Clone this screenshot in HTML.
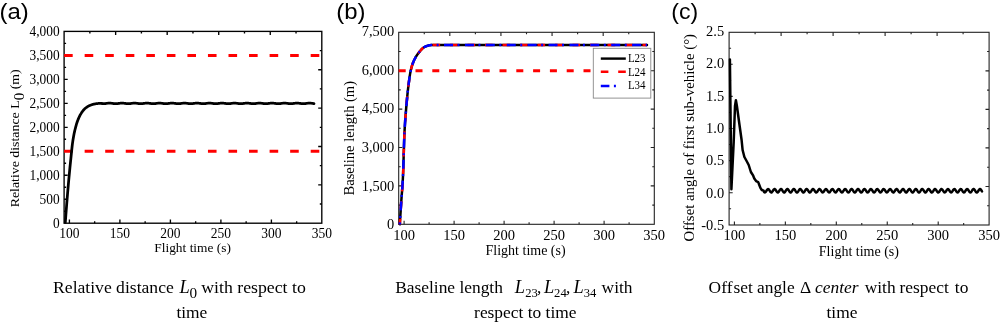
<!DOCTYPE html><html><head><meta charset="utf-8"><title>Figure</title><style>html,body{margin:0;padding:0;background:#fff;}svg{display:block;}</style></head><body>
<svg width="1000" height="322" viewBox="0 0 1000 322">
<rect width="1000" height="322" fill="#fff"/>
<path d="M69.4 223.2 L69.4 219.6 M94.65 223.2 L94.65 221.2 M119.9 223.2 L119.9 219.6 M145.15 223.2 L145.15 221.2 M170.4 223.2 L170.4 219.6 M195.65 223.2 L195.65 221.2 M220.9 223.2 L220.9 219.6 M246.15 223.2 L246.15 221.2 M271.4 223.2 L271.4 219.6 M296.65 223.2 L296.65 221.2 M64.1 211.21 L66.1 211.21 M64.1 199.22 L67.7 199.22 M64.1 187.24 L66.1 187.24 M64.1 175.25 L67.7 175.25 M64.1 163.26 L66.1 163.26 M64.1 151.27 L67.7 151.27 M64.1 139.29 L66.1 139.29 M64.1 127.3 L67.7 127.3 M64.1 115.31 L66.1 115.31 M64.1 103.33 L67.7 103.33 M64.1 91.34 L66.1 91.34 M64.1 79.35 L67.7 79.35 M64.1 67.36 L66.1 67.36 M64.1 55.38 L67.7 55.38 M64.1 43.39 L66.1 43.39 M89.87 31.4 L89.87 33.4 M321.8 50.58 L319.8 50.58 M115.64 31.4 L115.64 35 M321.8 69.76 L318.2 69.76 M141.41 31.4 L141.41 33.4 M321.8 88.94 L319.8 88.94 M167.18 31.4 L167.18 35 M321.8 108.12 L318.2 108.12 M192.95 31.4 L192.95 33.4 M321.8 127.3 L319.8 127.3 M218.72 31.4 L218.72 35 M321.8 146.48 L318.2 146.48 M244.49 31.4 L244.49 33.4 M321.8 165.66 L319.8 165.66 M270.26 31.4 L270.26 35 M321.8 184.84 L318.2 184.84 M296.03 31.4 L296.03 33.4 M321.8 204.02 L319.8 204.02" stroke="#000" stroke-width="1.35" fill="none"/>
<rect x="64.1" y="31.4" width="257.7" height="191.8" fill="none" stroke="#000" stroke-width="1.35"/>
<line x1="64.1" y1="55.38" x2="320" y2="55.38" stroke="#f00" stroke-width="3" stroke-dasharray="8.6 11.95"/>
<line x1="64.1" y1="151.27" x2="320" y2="151.27" stroke="#f00" stroke-width="3" stroke-dasharray="8.6 11.95"/>
<path d="M65.3 222.4 L65.61 218.3 L65.92 214.25 L66.23 210.26 L66.53 206.34 L66.84 202.48 L67.15 198.65 L67.46 194.87 L67.77 191.17 L68.08 187.55 L68.38 184.06 L68.69 180.65 L69 177.3 L69.31 174.02 L69.62 170.81 L69.93 167.67 L70.23 164.59 L70.54 161.59 L70.85 158.56 L71.16 155.51 L71.47 152.49 L71.78 149.56 L72.08 146.77 L72.39 144.18 L72.7 141.84 L73.01 139.8 L73.32 137.94 L73.63 136.21 L73.94 134.59 L74.24 133.07 L74.55 131.65 L74.86 130.3 L75.17 129.02 L75.48 127.81 L75.79 126.64 L76.09 125.52 L76.4 124.45 L76.71 123.44 L77.02 122.47 L77.33 121.56 L77.64 120.7 L77.94 119.89 L78.25 119.12 L78.56 118.39 L78.87 117.69 L79.18 117.02 L79.49 116.39 L79.79 115.78 L80.1 115.21 L80.41 114.65 L80.72 114.12 L81.03 113.6 L81.34 113.1 L81.65 112.62 L81.95 112.15 L82.26 111.7 L82.57 111.27 L82.88 110.86 L83.19 110.48 L83.5 110.12 L83.8 109.78 L84.11 109.45 L84.42 109.14 L84.73 108.83 L85.04 108.54 L85.35 108.27 L85.65 108 L85.96 107.75 L86.27 107.51 L86.58 107.29 L86.89 107.07 L87.2 106.87 L87.51 106.68 L87.81 106.5 L88.12 106.32 L88.43 106.15 L88.74 105.99 L89.05 105.84 L89.36 105.69 L89.66 105.55 L89.97 105.41 L90.28 105.29 L90.59 105.17 L90.9 105.05 L91.21 104.93 L91.51 104.82 L91.82 104.71 L92.13 104.61 L92.44 104.51 L92.75 104.42 L93.06 104.33 L93.36 104.25 L93.67 104.17 L93.98 104.1 L94.29 104.04 L94.6 103.98 L94.91 103.92 L95.22 103.86 L95.52 103.8 L95.83 103.75 L96.14 103.7 L96.45 103.65 L96.76 103.61 L97.07 103.57 L97.37 103.54 L97.68 103.52 L97.99 103.5 L98.3 103.49 L98.61 103.48 L98.92 103.46 L99.22 103.45 L99.53 103.44 L99.84 103.43 L100.15 103.42 L100.46 103.42 L100.77 103.41 L101.07 103.41 L101.38 103.4 L101.69 103.4 L102 103.4 L102 103.63 L102.5 103.66 L103 103.68 L103.5 103.68 L104 103.66 L104.5 103.62 L105 103.58 L105.5 103.52 L106 103.45 L106.5 103.38 L107 103.31 L107.5 103.25 L108 103.19 L108.5 103.15 L109 103.13 L109.5 103.12 L110 103.13 L110.5 103.16 L111 103.2 L111.5 103.25 L112 103.32 L112.5 103.39 L113 103.46 L113.5 103.52 L114 103.58 L114.5 103.63 L115 103.66 L115.5 103.68 L116 103.68 L116.5 103.66 L117 103.62 L117.5 103.58 L118 103.52 L118.5 103.45 L119 103.38 L119.5 103.31 L120 103.25 L120.5 103.19 L121 103.15 L121.5 103.13 L122 103.12 L122.5 103.13 L123 103.16 L123.5 103.2 L124 103.25 L124.5 103.32 L125 103.39 L125.5 103.46 L126 103.52 L126.5 103.58 L127 103.63 L127.5 103.66 L128 103.68 L128.5 103.68 L129 103.66 L129.5 103.62 L130 103.58 L130.5 103.52 L131 103.45 L131.5 103.38 L132 103.31 L132.5 103.25 L133 103.19 L133.5 103.15 L134 103.13 L134.5 103.12 L135 103.13 L135.5 103.16 L136 103.2 L136.5 103.25 L137 103.32 L137.5 103.39 L138 103.46 L138.5 103.52 L139 103.58 L139.5 103.63 L140 103.66 L140.5 103.68 L141 103.68 L141.5 103.66 L142 103.62 L142.5 103.58 L143 103.52 L143.5 103.45 L144 103.38 L144.5 103.31 L145 103.25 L145.5 103.19 L146 103.15 L146.5 103.13 L147 103.12 L147.5 103.13 L148 103.16 L148.5 103.2 L149 103.25 L149.5 103.32 L150 103.39 L150.5 103.46 L151 103.52 L151.5 103.58 L152 103.63 L152.5 103.66 L153 103.68 L153.5 103.68 L154 103.66 L154.5 103.62 L155 103.58 L155.5 103.52 L156 103.45 L156.5 103.38 L157 103.31 L157.5 103.25 L158 103.19 L158.5 103.15 L159 103.13 L159.5 103.12 L160 103.13 L160.5 103.16 L161 103.2 L161.5 103.25 L162 103.32 L162.5 103.39 L163 103.46 L163.5 103.52 L164 103.58 L164.5 103.63 L165 103.66 L165.5 103.68 L166 103.68 L166.5 103.66 L167 103.62 L167.5 103.58 L168 103.52 L168.5 103.45 L169 103.38 L169.5 103.31 L170 103.25 L170.5 103.19 L171 103.15 L171.5 103.13 L172 103.12 L172.5 103.13 L173 103.16 L173.5 103.2 L174 103.25 L174.5 103.32 L175 103.39 L175.5 103.46 L176 103.52 L176.5 103.58 L177 103.63 L177.5 103.66 L178 103.68 L178.5 103.68 L179 103.66 L179.5 103.62 L180 103.58 L180.5 103.52 L181 103.45 L181.5 103.38 L182 103.31 L182.5 103.25 L183 103.19 L183.5 103.15 L184 103.13 L184.5 103.12 L185 103.13 L185.5 103.16 L186 103.2 L186.5 103.25 L187 103.32 L187.5 103.39 L188 103.46 L188.5 103.52 L189 103.58 L189.5 103.63 L190 103.66 L190.5 103.68 L191 103.68 L191.5 103.66 L192 103.62 L192.5 103.58 L193 103.52 L193.5 103.45 L194 103.38 L194.5 103.31 L195 103.25 L195.5 103.19 L196 103.15 L196.5 103.13 L197 103.12 L197.5 103.13 L198 103.16 L198.5 103.2 L199 103.25 L199.5 103.32 L200 103.39 L200.5 103.46 L201 103.52 L201.5 103.58 L202 103.63 L202.5 103.66 L203 103.68 L203.5 103.68 L204 103.66 L204.5 103.62 L205 103.58 L205.5 103.52 L206 103.45 L206.5 103.38 L207 103.31 L207.5 103.25 L208 103.19 L208.5 103.15 L209 103.13 L209.5 103.12 L210 103.13 L210.5 103.16 L211 103.2 L211.5 103.25 L212 103.32 L212.5 103.39 L213 103.46 L213.5 103.52 L214 103.58 L214.5 103.63 L215 103.66 L215.5 103.68 L216 103.68 L216.5 103.66 L217 103.62 L217.5 103.58 L218 103.52 L218.5 103.45 L219 103.38 L219.5 103.31 L220 103.25 L220.5 103.19 L221 103.15 L221.5 103.13 L222 103.12 L222.5 103.13 L223 103.16 L223.5 103.2 L224 103.25 L224.5 103.32 L225 103.39 L225.5 103.46 L226 103.52 L226.5 103.58 L227 103.63 L227.5 103.66 L228 103.68 L228.5 103.68 L229 103.66 L229.5 103.62 L230 103.58 L230.5 103.52 L231 103.45 L231.5 103.38 L232 103.31 L232.5 103.25 L233 103.19 L233.5 103.15 L234 103.13 L234.5 103.12 L235 103.13 L235.5 103.16 L236 103.2 L236.5 103.25 L237 103.32 L237.5 103.39 L238 103.46 L238.5 103.52 L239 103.58 L239.5 103.63 L240 103.66 L240.5 103.68 L241 103.68 L241.5 103.66 L242 103.62 L242.5 103.58 L243 103.52 L243.5 103.45 L244 103.38 L244.5 103.31 L245 103.25 L245.5 103.19 L246 103.15 L246.5 103.13 L247 103.12 L247.5 103.13 L248 103.16 L248.5 103.2 L249 103.25 L249.5 103.32 L250 103.39 L250.5 103.46 L251 103.52 L251.5 103.58 L252 103.63 L252.5 103.66 L253 103.68 L253.5 103.68 L254 103.66 L254.5 103.62 L255 103.58 L255.5 103.52 L256 103.45 L256.5 103.38 L257 103.31 L257.5 103.25 L258 103.19 L258.5 103.15 L259 103.13 L259.5 103.12 L260 103.13 L260.5 103.16 L261 103.2 L261.5 103.25 L262 103.32 L262.5 103.39 L263 103.46 L263.5 103.52 L264 103.58 L264.5 103.63 L265 103.66 L265.5 103.68 L266 103.68 L266.5 103.66 L267 103.62 L267.5 103.58 L268 103.52 L268.5 103.45 L269 103.38 L269.5 103.31 L270 103.25 L270.5 103.19 L271 103.15 L271.5 103.13 L272 103.12 L272.5 103.13 L273 103.16 L273.5 103.2 L274 103.25 L274.5 103.32 L275 103.39 L275.5 103.46 L276 103.52 L276.5 103.58 L277 103.63 L277.5 103.66 L278 103.68 L278.5 103.68 L279 103.66 L279.5 103.62 L280 103.58 L280.5 103.52 L281 103.45 L281.5 103.38 L282 103.31 L282.5 103.25 L283 103.19 L283.5 103.15 L284 103.13 L284.5 103.12 L285 103.13 L285.5 103.16 L286 103.2 L286.5 103.25 L287 103.32 L287.5 103.39 L288 103.46 L288.5 103.52 L289 103.58 L289.5 103.63 L290 103.66 L290.5 103.68 L291 103.68 L291.5 103.66 L292 103.62 L292.5 103.58 L293 103.52 L293.5 103.45 L294 103.38 L294.5 103.31 L295 103.25 L295.5 103.19 L296 103.15 L296.5 103.13 L297 103.12 L297.5 103.13 L298 103.16 L298.5 103.2 L299 103.25 L299.5 103.32 L300 103.39 L300.5 103.46 L301 103.52 L301.5 103.58 L302 103.63 L302.5 103.66 L303 103.68 L303.5 103.68 L304 103.66 L304.5 103.62 L305 103.58 L305.5 103.52 L306 103.45 L306.5 103.38 L307 103.31 L307.5 103.25 L308 103.19 L308.5 103.15 L309 103.13 L309.5 103.12 L310 103.13 L310.5 103.16 L311 103.2 L311.5 103.25 L312 103.32 L312.5 103.39 L313 103.46 L313.5 103.52 L314 103.58" fill="none" stroke="#000" stroke-width="2.75" stroke-linejoin="round" stroke-linecap="round"/>
<text transform="translate(69.4 237.6) scale(1.04 1.2)" font-family="'Liberation Serif', 'Times New Roman', serif" font-size="13" text-anchor="middle" >100</text>
<text transform="translate(119.9 237.6) scale(1.04 1.2)" font-family="'Liberation Serif', 'Times New Roman', serif" font-size="13" text-anchor="middle" >150</text>
<text transform="translate(170.4 237.6) scale(1.04 1.2)" font-family="'Liberation Serif', 'Times New Roman', serif" font-size="13" text-anchor="middle" >200</text>
<text transform="translate(220.9 237.6) scale(1.04 1.2)" font-family="'Liberation Serif', 'Times New Roman', serif" font-size="13" text-anchor="middle" >250</text>
<text transform="translate(271.4 237.6) scale(1.04 1.2)" font-family="'Liberation Serif', 'Times New Roman', serif" font-size="13" text-anchor="middle" >300</text>
<text transform="translate(321.9 237.6) scale(1.04 1.2)" font-family="'Liberation Serif', 'Times New Roman', serif" font-size="13" text-anchor="middle" >350</text>
<text transform="translate(59.6 227.6) scale(1.03 1.2)" font-family="'Liberation Serif', 'Times New Roman', serif" font-size="13" text-anchor="end" >0</text>
<text transform="translate(59.6 203.6) scale(1.03 1.2)" font-family="'Liberation Serif', 'Times New Roman', serif" font-size="13" text-anchor="end" >500</text>
<text transform="translate(59.6 179.6) scale(1.03 1.2)" font-family="'Liberation Serif', 'Times New Roman', serif" font-size="13" text-anchor="end" >1,000</text>
<text transform="translate(59.6 155.6) scale(1.03 1.2)" font-family="'Liberation Serif', 'Times New Roman', serif" font-size="13" text-anchor="end" >1,500</text>
<text transform="translate(59.6 131.6) scale(1.03 1.2)" font-family="'Liberation Serif', 'Times New Roman', serif" font-size="13" text-anchor="end" >2,000</text>
<text transform="translate(59.6 107.6) scale(1.03 1.2)" font-family="'Liberation Serif', 'Times New Roman', serif" font-size="13" text-anchor="end" >2,500</text>
<text transform="translate(59.6 83.6) scale(1.03 1.2)" font-family="'Liberation Serif', 'Times New Roman', serif" font-size="13" text-anchor="end" >3,000</text>
<text transform="translate(59.6 59.6) scale(1.03 1.2)" font-family="'Liberation Serif', 'Times New Roman', serif" font-size="13" text-anchor="end" >3,500</text>
<text transform="translate(59.6 35.6) scale(1.03 1.2)" font-family="'Liberation Serif', 'Times New Roman', serif" font-size="13" text-anchor="end" >4,000</text>
<text x="192.6" y="251.6" font-family="'Liberation Serif', 'Times New Roman', serif" font-size="13.4" text-anchor="middle" >Flight time (s)</text>
<text transform="translate(19.2 207.3) rotate(-90) scale(1.035 1)" font-family="'Liberation Serif', 'Times New Roman', serif" font-size="13.4">Relative distance L<tspan font-size="14.5" dy="5.2">0</tspan><tspan dy="-5.2"> (m)</tspan></text>
<text transform="translate(-0.6 18.8) scale(1.09 1)" font-family="'Liberation Sans', Arial, sans-serif" font-size="22">(a)</text>
<path d="M404.1 224.3 L404.1 220.7 M429.1 224.3 L429.1 222.3 M454.1 224.3 L454.1 220.7 M479.1 224.3 L479.1 222.3 M504.1 224.3 L504.1 220.7 M529.1 224.3 L529.1 222.3 M554.1 224.3 L554.1 220.7 M579.1 224.3 L579.1 222.3 M604.1 224.3 L604.1 220.7 M629.1 224.3 L629.1 222.3 M398.7 205.1 L400.7 205.1 M398.7 185.9 L402.3 185.9 M398.7 166.7 L400.7 166.7 M398.7 147.5 L402.3 147.5 M398.7 128.3 L400.7 128.3 M398.7 109.1 L402.3 109.1 M398.7 89.9 L400.7 89.9 M398.7 70.7 L402.3 70.7 M398.7 51.5 L400.7 51.5 M424.26 32.3 L424.26 34.3 M654.3 51.5 L652.3 51.5 M449.82 32.3 L449.82 35.9 M654.3 70.7 L650.7 70.7 M475.38 32.3 L475.38 34.3 M654.3 89.9 L652.3 89.9 M500.94 32.3 L500.94 35.9 M654.3 109.1 L650.7 109.1 M526.5 32.3 L526.5 34.3 M654.3 128.3 L652.3 128.3 M552.06 32.3 L552.06 35.9 M654.3 147.5 L650.7 147.5 M577.62 32.3 L577.62 34.3 M654.3 166.7 L652.3 166.7 M603.18 32.3 L603.18 35.9 M654.3 185.9 L650.7 185.9 M628.74 32.3 L628.74 34.3 M654.3 205.1 L652.3 205.1" stroke="#222" stroke-width="1.1" fill="none"/>
<rect x="398.7" y="32.3" width="255.6" height="192" fill="none" stroke="#222" stroke-width="1.1"/>
<line x1="398.7" y1="70.7" x2="593" y2="70.7" stroke="#f00" stroke-width="3" stroke-dasharray="7 9.8"/>
<path d="M399.8 224.3 L400.05 220.25 L400.31 216.25 L400.56 212.3 L400.81 208.4 L401.06 204.55 L401.32 200.75 L401.57 197.2 L401.82 193.9 L402.08 190.66 L402.33 187.28 L402.58 183.53 L402.83 179.24 L403.09 173.84 L403.34 166.72 L403.59 158.57 L403.85 150.11 L404.1 142.08 L404.35 135.21 L404.6 130.07 L404.86 125.74 L405.11 121.85 L405.36 118.3 L405.62 115.03 L405.87 111.93 L406.12 108.93 L406.37 105.97 L406.63 103.11 L406.88 100.34 L407.13 97.67 L407.38 95.11 L407.64 92.66 L407.89 90.33 L408.14 88.12 L408.4 86.03 L408.65 84.02 L408.9 82.05 L409.15 80.14 L409.41 78.31 L409.66 76.56 L409.91 74.92 L410.17 73.41 L410.42 72.04 L410.67 70.83 L410.92 69.74 L411.18 68.72 L411.43 67.75 L411.68 66.84 L411.94 65.98 L412.19 65.17 L412.44 64.4 L412.69 63.68 L412.95 63 L413.2 62.35 L413.45 61.74 L413.71 61.16 L413.96 60.6 L414.21 60.06 L414.46 59.53 L414.72 59.02 L414.97 58.53 L415.22 58.05 L415.48 57.59 L415.73 57.14 L415.98 56.71 L416.23 56.29 L416.49 55.88 L416.74 55.48 L416.99 55.1 L417.25 54.73 L417.5 54.37 L417.75 54.02 L418 53.67 L418.26 53.34 L418.51 53.01 L418.76 52.7 L419.02 52.38 L419.27 52.06 L419.52 51.75 L419.77 51.43 L420.03 51.12 L420.28 50.82 L420.53 50.52 L420.78 50.22 L421.04 49.93 L421.29 49.65 L421.54 49.37 L421.8 49.11 L422.05 48.85 L422.3 48.6 L422.55 48.36 L422.81 48.13 L423.06 47.92 L423.31 47.71 L423.57 47.52 L423.82 47.34 L424.07 47.18 L424.32 47.03 L424.58 46.9 L424.83 46.79 L425.08 46.68 L425.34 46.57 L425.59 46.47 L425.84 46.37 L426.09 46.27 L426.35 46.17 L426.6 46.08 L426.85 45.99 L427.11 45.9 L427.36 45.82 L427.61 45.74 L427.86 45.66 L428.12 45.59 L428.37 45.52 L428.62 45.46 L428.88 45.4 L429.13 45.34 L429.38 45.29 L429.63 45.25 L429.89 45.21 L430.14 45.17 L430.39 45.14 L430.65 45.12 L430.9 45.1 L431.15 45.09 L431.4 45.08 L431.66 45.07 L431.91 45.06 L432.16 45.05 L432.42 45.04 L432.67 45.03 L432.92 45.03 L433.17 45.02 L433.43 45.01 L433.68 45 L433.93 44.99 L434.18 44.98 L434.44 44.98 L434.69 44.97 L434.94 44.96 L435.2 44.96 L435.45 44.95 L435.7 44.95 L435.95 44.94 L436.21 44.94 L436.46 44.93 L436.71 44.93 L436.97 44.92 L437.22 44.92 L437.47 44.92 L437.72 44.91 L437.98 44.91 L438.23 44.91 L438.48 44.91 L438.74 44.9 L438.99 44.9 L439.24 44.9 L439.49 44.9 L439.75 44.9 L440 44.9 L441 44.9 L442 44.9 L443 44.9 L444 44.9 L445 44.9 L446 44.9 L447 44.9 L448 44.9 L449 44.9 L450 44.9 L451 44.9 L452 44.9 L453 44.9 L454 44.9 L455 44.9 L456 44.9 L457 44.9 L458 44.9 L459 44.9 L460 44.9 L461 44.9 L462 44.9 L463 44.9 L464 44.9 L465 44.9 L466 44.9 L467 44.9 L468 44.9 L469 44.9 L470 44.9 L471 44.9 L472 44.9 L473 44.9 L474 44.9 L475 44.9 L476 44.9 L477 44.9 L478 44.9 L479 44.9 L480 44.9 L481 44.9 L482 44.9 L483 44.9 L484 44.9 L485 44.9 L486 44.9 L487 44.9 L488 44.9 L489 44.9 L490 44.9 L491 44.9 L492 44.9 L493 44.9 L494 44.9 L495 44.9 L496 44.9 L497 44.9 L498 44.9 L499 44.9 L500 44.9 L501 44.9 L502 44.9 L503 44.9 L504 44.9 L505 44.9 L506 44.9 L507 44.9 L508 44.9 L509 44.9 L510 44.9 L511 44.9 L512 44.9 L513 44.9 L514 44.9 L515 44.9 L516 44.9 L517 44.9 L518 44.9 L519 44.9 L520 44.9 L521 44.9 L522 44.9 L523 44.9 L524 44.9 L525 44.9 L526 44.9 L527 44.9 L528 44.9 L529 44.9 L530 44.9 L531 44.9 L532 44.9 L533 44.9 L534 44.9 L535 44.9 L536 44.9 L537 44.9 L538 44.9 L539 44.9 L540 44.9 L541 44.9 L542 44.9 L543 44.9 L544 44.9 L545 44.9 L546 44.9 L547 44.9 L548 44.9 L549 44.9 L550 44.9 L551 44.9 L552 44.9 L553 44.9 L554 44.9 L555 44.9 L556 44.9 L557 44.9 L558 44.9 L559 44.9 L560 44.9 L561 44.9 L562 44.9 L563 44.9 L564 44.9 L565 44.9 L566 44.9 L567 44.9 L568 44.9 L569 44.9 L570 44.9 L571 44.9 L572 44.9 L573 44.9 L574 44.9 L575 44.9 L576 44.9 L577 44.9 L578 44.9 L579 44.9 L580 44.9 L581 44.9 L582 44.9 L583 44.9 L584 44.9 L585 44.9 L586 44.9 L587 44.9 L588 44.9 L589 44.9 L590 44.9 L591 44.9 L592 44.9 L593 44.9 L594 44.9 L595 44.9 L596 44.9 L597 44.9 L598 44.9 L599 44.9 L600 44.9 L601 44.9 L602 44.9 L603 44.9 L604 44.9 L605 44.9 L606 44.9 L607 44.9 L608 44.9 L609 44.9 L610 44.9 L611 44.9 L612 44.9 L613 44.9 L614 44.9 L615 44.9 L616 44.9 L617 44.9 L618 44.9 L619 44.9 L620 44.9 L621 44.9 L622 44.9 L623 44.9 L624 44.9 L625 44.9 L626 44.9 L627 44.9 L628 44.9 L629 44.9 L630 44.9 L631 44.9 L632 44.9 L633 44.9 L634 44.9 L635 44.9 L636 44.9 L637 44.9 L638 44.9 L639 44.9 L640 44.9 L641 44.9 L642 44.9 L643 44.9 L644 44.9 L645 44.9 L646 44.9 L647 44.9" fill="none" stroke="#000" stroke-width="2.5" stroke-linejoin="round" stroke-linecap="round"/>
<path d="M399.8 224.3 L400.05 220.25 L400.31 216.25 L400.56 212.3 L400.81 208.4 L401.06 204.55 L401.32 200.75 L401.57 197.2 L401.82 193.9 L402.08 190.66 L402.33 187.28 L402.58 183.53 L402.83 179.24 L403.09 173.84 L403.34 166.72 L403.59 158.57 L403.85 150.11 L404.1 142.08 L404.35 135.21 L404.6 130.07 L404.86 125.74 L405.11 121.85 L405.36 118.3 L405.62 115.03 L405.87 111.93 L406.12 108.93 L406.37 105.97 L406.63 103.11 L406.88 100.34 L407.13 97.67 L407.38 95.11 L407.64 92.66 L407.89 90.33 L408.14 88.12 L408.4 86.03 L408.65 84.02 L408.9 82.05 L409.15 80.14 L409.41 78.31 L409.66 76.56 L409.91 74.92 L410.17 73.41 L410.42 72.04 L410.67 70.83 L410.92 69.74 L411.18 68.72 L411.43 67.75 L411.68 66.84 L411.94 65.98 L412.19 65.17 L412.44 64.4 L412.69 63.68 L412.95 63 L413.2 62.35 L413.45 61.74 L413.71 61.16 L413.96 60.6 L414.21 60.06 L414.46 59.53 L414.72 59.02 L414.97 58.53 L415.22 58.05 L415.48 57.59 L415.73 57.14 L415.98 56.71 L416.23 56.29 L416.49 55.88 L416.74 55.48 L416.99 55.1 L417.25 54.73 L417.5 54.37 L417.75 54.02 L418 53.67 L418.26 53.34 L418.51 53.01 L418.76 52.7 L419.02 52.38 L419.27 52.06 L419.52 51.75 L419.77 51.43 L420.03 51.12 L420.28 50.82 L420.53 50.52 L420.78 50.22 L421.04 49.93 L421.29 49.65 L421.54 49.37 L421.8 49.11 L422.05 48.85 L422.3 48.6 L422.55 48.36 L422.81 48.13 L423.06 47.92 L423.31 47.71 L423.57 47.52 L423.82 47.34 L424.07 47.18 L424.32 47.03 L424.58 46.9 L424.83 46.79 L425.08 46.68 L425.34 46.57 L425.59 46.47 L425.84 46.37 L426.09 46.27 L426.35 46.17 L426.6 46.08 L426.85 45.99 L427.11 45.9 L427.36 45.82 L427.61 45.74 L427.86 45.66 L428.12 45.59 L428.37 45.52 L428.62 45.46 L428.88 45.4 L429.13 45.34 L429.38 45.29 L429.63 45.25 L429.89 45.21 L430.14 45.17 L430.39 45.14 L430.65 45.12 L430.9 45.1 L431.15 45.09 L431.4 45.08 L431.66 45.07 L431.91 45.06 L432.16 45.05 L432.42 45.04 L432.67 45.03 L432.92 45.03 L433.17 45.02 L433.43 45.01 L433.68 45 L433.93 44.99 L434.18 44.98 L434.44 44.98 L434.69 44.97 L434.94 44.96 L435.2 44.96 L435.45 44.95 L435.7 44.95 L435.95 44.94 L436.21 44.94 L436.46 44.93 L436.71 44.93 L436.97 44.92 L437.22 44.92 L437.47 44.92 L437.72 44.91 L437.98 44.91 L438.23 44.91 L438.48 44.91 L438.74 44.9 L438.99 44.9 L439.24 44.9 L439.49 44.9 L439.75 44.9 L440 44.9 L441 44.9 L442 44.9 L443 44.9 L444 44.9 L445 44.9 L446 44.9 L447 44.9 L448 44.9 L449 44.9 L450 44.9 L451 44.9 L452 44.9 L453 44.9 L454 44.9 L455 44.9 L456 44.9 L457 44.9 L458 44.9 L459 44.9 L460 44.9 L461 44.9 L462 44.9 L463 44.9 L464 44.9 L465 44.9 L466 44.9 L467 44.9 L468 44.9 L469 44.9 L470 44.9 L471 44.9 L472 44.9 L473 44.9 L474 44.9 L475 44.9 L476 44.9 L477 44.9 L478 44.9 L479 44.9 L480 44.9 L481 44.9 L482 44.9 L483 44.9 L484 44.9 L485 44.9 L486 44.9 L487 44.9 L488 44.9 L489 44.9 L490 44.9 L491 44.9 L492 44.9 L493 44.9 L494 44.9 L495 44.9 L496 44.9 L497 44.9 L498 44.9 L499 44.9 L500 44.9 L501 44.9 L502 44.9 L503 44.9 L504 44.9 L505 44.9 L506 44.9 L507 44.9 L508 44.9 L509 44.9 L510 44.9 L511 44.9 L512 44.9 L513 44.9 L514 44.9 L515 44.9 L516 44.9 L517 44.9 L518 44.9 L519 44.9 L520 44.9 L521 44.9 L522 44.9 L523 44.9 L524 44.9 L525 44.9 L526 44.9 L527 44.9 L528 44.9 L529 44.9 L530 44.9 L531 44.9 L532 44.9 L533 44.9 L534 44.9 L535 44.9 L536 44.9 L537 44.9 L538 44.9 L539 44.9 L540 44.9 L541 44.9 L542 44.9 L543 44.9 L544 44.9 L545 44.9 L546 44.9 L547 44.9 L548 44.9 L549 44.9 L550 44.9 L551 44.9 L552 44.9 L553 44.9 L554 44.9 L555 44.9 L556 44.9 L557 44.9 L558 44.9 L559 44.9 L560 44.9 L561 44.9 L562 44.9 L563 44.9 L564 44.9 L565 44.9 L566 44.9 L567 44.9 L568 44.9 L569 44.9 L570 44.9 L571 44.9 L572 44.9 L573 44.9 L574 44.9 L575 44.9 L576 44.9 L577 44.9 L578 44.9 L579 44.9 L580 44.9 L581 44.9 L582 44.9 L583 44.9 L584 44.9 L585 44.9 L586 44.9 L587 44.9 L588 44.9 L589 44.9 L590 44.9 L591 44.9 L592 44.9 L593 44.9 L594 44.9 L595 44.9 L596 44.9 L597 44.9 L598 44.9 L599 44.9 L600 44.9 L601 44.9 L602 44.9 L603 44.9 L604 44.9 L605 44.9 L606 44.9 L607 44.9 L608 44.9 L609 44.9 L610 44.9 L611 44.9 L612 44.9 L613 44.9 L614 44.9 L615 44.9 L616 44.9 L617 44.9 L618 44.9 L619 44.9 L620 44.9 L621 44.9 L622 44.9 L623 44.9 L624 44.9 L625 44.9 L626 44.9 L627 44.9 L628 44.9 L629 44.9 L630 44.9 L631 44.9 L632 44.9 L633 44.9 L634 44.9 L635 44.9 L636 44.9 L637 44.9 L638 44.9 L639 44.9 L640 44.9 L641 44.9 L642 44.9 L643 44.9 L644 44.9 L645 44.9 L646 44.9 L647 44.9" fill="none" stroke="#f00" stroke-width="2.5" stroke-dasharray="7.6 9.9" stroke-dashoffset="2" stroke-linejoin="round"/>
<path d="M399.8 224.3 L400.05 220.25 L400.31 216.25 L400.56 212.3 L400.81 208.4 L401.06 204.55 L401.32 200.75 L401.57 197.2 L401.82 193.9 L402.08 190.66 L402.33 187.28 L402.58 183.53 L402.83 179.24 L403.09 173.84 L403.34 166.72 L403.59 158.57 L403.85 150.11 L404.1 142.08 L404.35 135.21 L404.6 130.07 L404.86 125.74 L405.11 121.85 L405.36 118.3 L405.62 115.03 L405.87 111.93 L406.12 108.93 L406.37 105.97 L406.63 103.11 L406.88 100.34 L407.13 97.67 L407.38 95.11 L407.64 92.66 L407.89 90.33 L408.14 88.12 L408.4 86.03 L408.65 84.02 L408.9 82.05 L409.15 80.14 L409.41 78.31 L409.66 76.56 L409.91 74.92 L410.17 73.41 L410.42 72.04 L410.67 70.83 L410.92 69.74 L411.18 68.72 L411.43 67.75 L411.68 66.84 L411.94 65.98 L412.19 65.17 L412.44 64.4 L412.69 63.68 L412.95 63 L413.2 62.35 L413.45 61.74 L413.71 61.16 L413.96 60.6 L414.21 60.06 L414.46 59.53 L414.72 59.02 L414.97 58.53 L415.22 58.05 L415.48 57.59 L415.73 57.14 L415.98 56.71 L416.23 56.29 L416.49 55.88 L416.74 55.48 L416.99 55.1 L417.25 54.73 L417.5 54.37 L417.75 54.02 L418 53.67 L418.26 53.34 L418.51 53.01 L418.76 52.7 L419.02 52.38 L419.27 52.06 L419.52 51.75 L419.77 51.43 L420.03 51.12 L420.28 50.82 L420.53 50.52 L420.78 50.22 L421.04 49.93 L421.29 49.65 L421.54 49.37 L421.8 49.11 L422.05 48.85 L422.3 48.6 L422.55 48.36 L422.81 48.13 L423.06 47.92 L423.31 47.71 L423.57 47.52 L423.82 47.34 L424.07 47.18 L424.32 47.03 L424.58 46.9 L424.83 46.79 L425.08 46.68 L425.34 46.57 L425.59 46.47 L425.84 46.37 L426.09 46.27 L426.35 46.17 L426.6 46.08 L426.85 45.99 L427.11 45.9 L427.36 45.82 L427.61 45.74 L427.86 45.66 L428.12 45.59 L428.37 45.52 L428.62 45.46 L428.88 45.4 L429.13 45.34 L429.38 45.29 L429.63 45.25 L429.89 45.21 L430.14 45.17 L430.39 45.14 L430.65 45.12 L430.9 45.1 L431.15 45.09 L431.4 45.08 L431.66 45.07 L431.91 45.06 L432.16 45.05 L432.42 45.04 L432.67 45.03 L432.92 45.03 L433.17 45.02 L433.43 45.01 L433.68 45 L433.93 44.99 L434.18 44.98 L434.44 44.98 L434.69 44.97 L434.94 44.96 L435.2 44.96 L435.45 44.95 L435.7 44.95 L435.95 44.94 L436.21 44.94 L436.46 44.93 L436.71 44.93 L436.97 44.92 L437.22 44.92 L437.47 44.92 L437.72 44.91 L437.98 44.91 L438.23 44.91 L438.48 44.91 L438.74 44.9 L438.99 44.9 L439.24 44.9 L439.49 44.9 L439.75 44.9 L440 44.9 L441 44.9 L442 44.9 L443 44.9 L444 44.9 L445 44.9 L446 44.9 L447 44.9 L448 44.9 L449 44.9 L450 44.9 L451 44.9 L452 44.9 L453 44.9 L454 44.9 L455 44.9 L456 44.9 L457 44.9 L458 44.9 L459 44.9 L460 44.9 L461 44.9 L462 44.9 L463 44.9 L464 44.9 L465 44.9 L466 44.9 L467 44.9 L468 44.9 L469 44.9 L470 44.9 L471 44.9 L472 44.9 L473 44.9 L474 44.9 L475 44.9 L476 44.9 L477 44.9 L478 44.9 L479 44.9 L480 44.9 L481 44.9 L482 44.9 L483 44.9 L484 44.9 L485 44.9 L486 44.9 L487 44.9 L488 44.9 L489 44.9 L490 44.9 L491 44.9 L492 44.9 L493 44.9 L494 44.9 L495 44.9 L496 44.9 L497 44.9 L498 44.9 L499 44.9 L500 44.9 L501 44.9 L502 44.9 L503 44.9 L504 44.9 L505 44.9 L506 44.9 L507 44.9 L508 44.9 L509 44.9 L510 44.9 L511 44.9 L512 44.9 L513 44.9 L514 44.9 L515 44.9 L516 44.9 L517 44.9 L518 44.9 L519 44.9 L520 44.9 L521 44.9 L522 44.9 L523 44.9 L524 44.9 L525 44.9 L526 44.9 L527 44.9 L528 44.9 L529 44.9 L530 44.9 L531 44.9 L532 44.9 L533 44.9 L534 44.9 L535 44.9 L536 44.9 L537 44.9 L538 44.9 L539 44.9 L540 44.9 L541 44.9 L542 44.9 L543 44.9 L544 44.9 L545 44.9 L546 44.9 L547 44.9 L548 44.9 L549 44.9 L550 44.9 L551 44.9 L552 44.9 L553 44.9 L554 44.9 L555 44.9 L556 44.9 L557 44.9 L558 44.9 L559 44.9 L560 44.9 L561 44.9 L562 44.9 L563 44.9 L564 44.9 L565 44.9 L566 44.9 L567 44.9 L568 44.9 L569 44.9 L570 44.9 L571 44.9 L572 44.9 L573 44.9 L574 44.9 L575 44.9 L576 44.9 L577 44.9 L578 44.9 L579 44.9 L580 44.9 L581 44.9 L582 44.9 L583 44.9 L584 44.9 L585 44.9 L586 44.9 L587 44.9 L588 44.9 L589 44.9 L590 44.9 L591 44.9 L592 44.9 L593 44.9 L594 44.9 L595 44.9 L596 44.9 L597 44.9 L598 44.9 L599 44.9 L600 44.9 L601 44.9 L602 44.9 L603 44.9 L604 44.9 L605 44.9 L606 44.9 L607 44.9 L608 44.9 L609 44.9 L610 44.9 L611 44.9 L612 44.9 L613 44.9 L614 44.9 L615 44.9 L616 44.9 L617 44.9 L618 44.9 L619 44.9 L620 44.9 L621 44.9 L622 44.9 L623 44.9 L624 44.9 L625 44.9 L626 44.9 L627 44.9 L628 44.9 L629 44.9 L630 44.9 L631 44.9 L632 44.9 L633 44.9 L634 44.9 L635 44.9 L636 44.9 L637 44.9 L638 44.9 L639 44.9 L640 44.9 L641 44.9 L642 44.9 L643 44.9 L644 44.9 L645 44.9 L646 44.9 L647 44.9" fill="none" stroke="#00f" stroke-width="2.5" stroke-dasharray="9 4.5 2 5.4" stroke-dashoffset="7" stroke-linejoin="round"/>
<rect x="593.3" y="48.3" width="57.5" height="49.8" fill="#fff" stroke="#888" stroke-width="0.9"/>
<line x1="600.8" y1="58.6" x2="625.8" y2="58.6" stroke="#000" stroke-width="2.4"/>
<line x1="600.8" y1="71.7" x2="626" y2="71.7" stroke="#f00" stroke-width="2.4" stroke-dasharray="7.6 9.8"/>
<line x1="600.8" y1="86" x2="626" y2="86" stroke="#00f" stroke-width="2.4" stroke-dasharray="8.6 4.5 2 20"/>
<text transform="translate(627.9 62.4) scale(1.0 1.12)" font-family="'Liberation Serif', 'Times New Roman', serif" font-size="11" text-anchor="start" >L23</text>
<text transform="translate(627.9 75.7) scale(1.0 1.12)" font-family="'Liberation Serif', 'Times New Roman', serif" font-size="11" text-anchor="start" >L24</text>
<text transform="translate(627.9 89.2) scale(1.0 1.12)" font-family="'Liberation Serif', 'Times New Roman', serif" font-size="11" text-anchor="start" >L34</text>
<text transform="translate(404.1 240.1) scale(1.04 1.06)" font-family="'Liberation Serif', 'Times New Roman', serif" font-size="14" text-anchor="middle" >100</text>
<text transform="translate(454.1 240.1) scale(1.04 1.06)" font-family="'Liberation Serif', 'Times New Roman', serif" font-size="14" text-anchor="middle" >150</text>
<text transform="translate(504.1 240.1) scale(1.04 1.06)" font-family="'Liberation Serif', 'Times New Roman', serif" font-size="14" text-anchor="middle" >200</text>
<text transform="translate(554.1 240.1) scale(1.04 1.06)" font-family="'Liberation Serif', 'Times New Roman', serif" font-size="14" text-anchor="middle" >250</text>
<text transform="translate(604.1 240.1) scale(1.04 1.06)" font-family="'Liberation Serif', 'Times New Roman', serif" font-size="14" text-anchor="middle" >300</text>
<text transform="translate(654.1 240.1) scale(1.04 1.06)" font-family="'Liberation Serif', 'Times New Roman', serif" font-size="14" text-anchor="middle" >350</text>
<text transform="translate(394.2 229.4) scale(1.03 1.06)" font-family="'Liberation Serif', 'Times New Roman', serif" font-size="14" text-anchor="end" >0</text>
<text transform="translate(394.2 190.73) scale(1.03 1.06)" font-family="'Liberation Serif', 'Times New Roman', serif" font-size="14" text-anchor="end" >1,500</text>
<text transform="translate(394.2 152.06) scale(1.03 1.06)" font-family="'Liberation Serif', 'Times New Roman', serif" font-size="14" text-anchor="end" >3,000</text>
<text transform="translate(394.2 113.39) scale(1.03 1.06)" font-family="'Liberation Serif', 'Times New Roman', serif" font-size="14" text-anchor="end" >4,500</text>
<text transform="translate(394.2 74.72) scale(1.03 1.06)" font-family="'Liberation Serif', 'Times New Roman', serif" font-size="14" text-anchor="end" >6,000</text>
<text transform="translate(394.2 36.05) scale(1.03 1.06)" font-family="'Liberation Serif', 'Times New Roman', serif" font-size="14" text-anchor="end" >7,500</text>
<text x="525.6" y="254.9" font-family="'Liberation Serif', 'Times New Roman', serif" font-size="14" text-anchor="middle" >Flight time (s)</text>
<text transform="translate(354.3 195.4) rotate(-90)" font-family="'Liberation Serif', 'Times New Roman', serif" font-size="14.5">Baseline length (m)</text>
<text transform="translate(336.2 18.8) scale(1.09 1)" font-family="'Liberation Sans', Arial, sans-serif" font-size="22">(b)</text>
<path d="M734.4 225 L734.4 221.4 M759.88 225 L759.88 223 M785.35 225 L785.35 221.4 M810.82 225 L810.82 223 M836.3 225 L836.3 221.4 M861.77 225 L861.77 223 M887.25 225 L887.25 221.4 M912.72 225 L912.72 223 M938.2 225 L938.2 221.4 M963.67 225 L963.67 223 M729.1 208.75 L731.1 208.75 M729.1 192.7 L732.7 192.7 M729.1 176.65 L731.1 176.65 M729.1 160.6 L732.7 160.6 M729.1 144.55 L731.1 144.55 M729.1 128.5 L732.7 128.5 M729.1 112.45 L731.1 112.45 M729.1 96.4 L732.7 96.4 M729.1 80.35 L731.1 80.35 M729.1 64.3 L732.7 64.3 M729.1 48.25 L731.1 48.25 M755.1 32.3 L755.1 34.3 M989.1 51.57 L987.1 51.57 M781.1 32.3 L781.1 35.9 M989.1 70.84 L985.5 70.84 M807.1 32.3 L807.1 34.3 M989.1 90.11 L987.1 90.11 M833.1 32.3 L833.1 35.9 M989.1 109.38 L985.5 109.38 M859.1 32.3 L859.1 34.3 M989.1 128.65 L987.1 128.65 M885.1 32.3 L885.1 35.9 M989.1 147.92 L985.5 147.92 M911.1 32.3 L911.1 34.3 M989.1 167.19 L987.1 167.19 M937.1 32.3 L937.1 35.9 M989.1 186.46 L985.5 186.46 M963.1 32.3 L963.1 34.3 M989.1 205.73 L987.1 205.73" stroke="#222" stroke-width="1.1" fill="none"/>
<rect x="729.1" y="32.3" width="260" height="192.7" fill="none" stroke="#222" stroke-width="1.1"/>
<path d="M729.9 59.6 L731.4 189.3 L733.7 142 L735 106 L735.9 100.3 L736.9 106 L739.5 125 L741.6 140 L742.6 150 L744.4 157 L746.6 161 L748.7 165 L750.9 172 L753.2 175.7 L754.3 178.6 L756.1 181.1 L758.2 182.1 L759.3 185 L760.4 187.9 L761.8 190 L763.6 190.7 L764 191.83 L764.4 192.25 L764.8 192.44 L765.2 192.38 L765.6 192.07 L766 191.56 L766.4 190.92 L766.8 190.27 L767.2 189.68 L767.6 189.26 L768 189.06 L768.4 189.12 L768.8 189.42 L769.2 189.93 L769.6 190.56 L770 191.22 L770.4 191.81 L770.8 192.23 L771.2 192.44 L771.6 192.39 L772 192.09 L772.4 191.59 L772.8 190.96 L773.2 190.3 L773.6 189.71 L774 189.27 L774.4 189.06 L774.8 189.11 L775.2 189.4 L775.6 189.9 L776 190.52 L776.4 191.18 L776.8 191.78 L777.2 192.22 L777.6 192.43 L778 192.4 L778.4 192.11 L778.8 191.62 L779.2 190.99 L779.6 190.33 L780 189.74 L780.4 189.29 L780.8 189.07 L781.2 189.1 L781.6 189.38 L782 189.87 L782.4 190.49 L782.8 191.15 L783.2 191.75 L783.6 192.2 L784 192.43 L784.4 192.4 L784.8 192.13 L785.2 191.65 L785.6 191.03 L786 190.37 L786.4 189.76 L786.8 189.31 L787.2 189.07 L787.6 189.09 L788 189.36 L788.4 189.84 L788.8 190.45 L789.2 191.12 L789.6 191.72 L790 192.18 L790.4 192.42 L790.8 192.41 L791.2 192.15 L791.6 191.68 L792 191.06 L792.4 190.4 L792.8 189.79 L793.2 189.33 L793.6 189.08 L794 189.08 L794.4 189.34 L794.8 189.81 L795.2 190.42 L795.6 191.08 L796 191.69 L796.4 192.16 L796.8 192.42 L797.2 192.42 L797.6 192.17 L798 191.71 L798.4 191.1 L798.8 190.44 L799.2 189.82 L799.6 189.35 L800 189.09 L800.4 189.08 L800.8 189.32 L801.2 189.78 L801.6 190.39 L802 191.05 L802.4 191.66 L802.8 192.14 L803.2 192.41 L803.6 192.43 L804 192.19 L804.4 191.73 L804.8 191.13 L805.2 190.47 L805.6 189.85 L806 189.37 L806.4 189.1 L806.8 189.07 L807.2 189.3 L807.6 189.75 L808 190.35 L808.4 191.01 L808.8 191.63 L809.2 192.12 L809.6 192.4 L810 192.43 L810.4 192.21 L810.8 191.76 L811.2 191.17 L811.6 190.51 L812 189.88 L812.4 189.39 L812.8 189.1 L813.2 189.07 L813.6 189.28 L814 189.72 L814.4 190.32 L814.8 190.98 L815.2 191.6 L815.6 192.1 L816 192.39 L816.4 192.44 L816.8 192.22 L817.2 191.79 L817.6 191.2 L818 190.54 L818.4 189.91 L818.8 189.41 L819.2 189.11 L819.6 189.06 L820 189.27 L820.4 189.7 L820.8 190.28 L821.2 190.94 L821.6 191.57 L822 192.08 L822.4 192.38 L822.8 192.44 L823.2 192.24 L823.6 191.82 L824 191.23 L824.4 190.57 L824.8 189.94 L825.2 189.43 L825.6 189.12 L826 189.06 L826.4 189.25 L826.8 189.67 L827.2 190.25 L827.6 190.91 L828 191.54 L828.4 192.06 L828.8 192.37 L829.2 192.44 L829.6 192.26 L830 191.85 L830.4 191.27 L830.8 190.61 L831.2 189.97 L831.6 189.46 L832 189.13 L832.4 189.06 L832.8 189.23 L833.2 189.64 L833.6 190.22 L834 190.87 L834.4 191.51 L834.8 192.03 L835.2 192.36 L835.6 192.45 L836 192.27 L836.4 191.87 L836.8 191.3 L837.2 190.64 L837.6 190 L838 189.48 L838.4 189.14 L838.8 189.05 L839.2 189.22 L839.6 189.62 L840 190.18 L840.4 190.84 L840.8 191.48 L841.2 192.01 L841.6 192.35 L842 192.45 L842.4 192.29 L842.8 191.9 L843.2 191.33 L843.6 190.68 L844 190.04 L844.4 189.5 L844.8 189.16 L845.2 189.05 L845.6 189.2 L846 189.59 L846.4 190.15 L846.8 190.8 L847.2 191.45 L847.6 191.99 L848 192.34 L848.4 192.45 L848.8 192.3 L849.2 191.92 L849.6 191.36 L850 190.71 L850.4 190.07 L850.8 189.53 L851.2 189.17 L851.6 189.05 L852 189.19 L852.4 189.56 L852.8 190.12 L853.2 190.77 L853.6 191.42 L854 191.96 L854.4 192.33 L854.8 192.45 L855.2 192.32 L855.6 191.95 L856 191.4 L856.4 190.75 L856.8 190.1 L857.2 189.55 L857.6 189.18 L858 189.05 L858.4 189.18 L858.8 189.54 L859.2 190.09 L859.6 190.73 L860 191.38 L860.4 191.94 L860.8 192.31 L861.2 192.45 L861.6 192.33 L862 191.97 L862.4 191.43 L862.8 190.78 L863.2 190.13 L863.6 189.58 L864 189.2 L864.4 189.05 L864.8 189.16 L865.2 189.52 L865.6 190.05 L866 190.7 L866.4 191.35 L866.8 191.91 L867.2 192.3 L867.6 192.45 L868 192.34 L868.4 192 L868.8 191.46 L869.2 190.82 L869.6 190.17 L870 189.6 L870.4 189.21 L870.8 189.05 L871.2 189.15 L871.6 189.49 L872 190.02 L872.4 190.66 L872.8 191.32 L873.2 191.89 L873.6 192.28 L874 192.45 L874.4 192.36 L874.8 192.02 L875.2 191.49 L875.6 190.85 L876 190.2 L876.4 189.63 L876.8 189.22 L877.2 189.05 L877.6 189.14 L878 189.47 L878.4 189.99 L878.8 190.63 L879.2 191.29 L879.6 191.86 L880 192.27 L880.4 192.45 L880.8 192.37 L881.2 192.04 L881.6 191.52 L882 190.89 L882.4 190.23 L882.8 189.65 L883.2 189.24 L883.6 189.06 L884 189.13 L884.4 189.45 L884.8 189.96 L885.2 190.59 L885.6 191.25 L886 191.83 L886.4 192.25 L886.8 192.44 L887.2 192.38 L887.6 192.07 L888 191.56 L888.4 190.92 L888.8 190.26 L889.2 189.68 L889.6 189.26 L890 189.06 L890.4 189.12 L890.8 189.42 L891.2 189.93 L891.6 190.56 L892 191.22 L892.4 191.81 L892.8 192.23 L893.2 192.44 L893.6 192.39 L894 192.09 L894.4 191.59 L894.8 190.96 L895.2 190.3 L895.6 189.71 L896 189.27 L896.4 189.06 L896.8 189.11 L897.2 189.4 L897.6 189.9 L898 190.52 L898.4 191.18 L898.8 191.78 L899.2 192.22 L899.6 192.43 L900 192.4 L900.4 192.11 L900.8 191.62 L901.2 190.99 L901.6 190.33 L902 189.74 L902.4 189.29 L902.8 189.07 L903.2 189.1 L903.6 189.38 L904 189.87 L904.4 190.49 L904.8 191.15 L905.2 191.75 L905.6 192.2 L906 192.43 L906.4 192.4 L906.8 192.13 L907.2 191.65 L907.6 191.03 L908 190.37 L908.4 189.76 L908.8 189.31 L909.2 189.07 L909.6 189.09 L910 189.36 L910.4 189.84 L910.8 190.46 L911.2 191.12 L911.6 191.72 L912 192.18 L912.4 192.42 L912.8 192.41 L913.2 192.15 L913.6 191.68 L914 191.06 L914.4 190.4 L914.8 189.79 L915.2 189.33 L915.6 189.08 L916 189.08 L916.4 189.34 L916.8 189.81 L917.2 190.42 L917.6 191.08 L918 191.69 L918.4 192.16 L918.8 192.42 L919.2 192.42 L919.6 192.17 L920 191.7 L920.4 191.1 L920.8 190.43 L921.2 189.82 L921.6 189.35 L922 189.09 L922.4 189.08 L922.8 189.32 L923.2 189.78 L923.6 190.39 L924 191.05 L924.4 191.66 L924.8 192.14 L925.2 192.41 L925.6 192.43 L926 192.19 L926.4 191.73 L926.8 191.13 L927.2 190.47 L927.6 189.85 L928 189.37 L928.4 189.09 L928.8 189.07 L929.2 189.3 L929.6 189.75 L930 190.35 L930.4 191.01 L930.8 191.63 L931.2 192.12 L931.6 192.4 L932 192.43 L932.4 192.21 L932.8 191.76 L933.2 191.16 L933.6 190.5 L934 189.88 L934.4 189.39 L934.8 189.1 L935.2 189.07 L935.6 189.28 L936 189.72 L936.4 190.32 L936.8 190.98 L937.2 191.6 L937.6 192.1 L938 192.39 L938.4 192.44 L938.8 192.22 L939.2 191.79 L939.6 191.2 L940 190.54 L940.4 189.91 L940.8 189.41 L941.2 189.11 L941.6 189.06 L942 189.27 L942.4 189.7 L942.8 190.29 L943.2 190.94 L943.6 191.57 L944 192.08 L944.4 192.38 L944.8 192.44 L945.2 192.24 L945.6 191.82 L946 191.23 L946.4 190.57 L946.8 189.94 L947.2 189.43 L947.6 189.12 L948 189.06 L948.4 189.25 L948.8 189.67 L949.2 190.25 L949.6 190.91 L950 191.54 L950.4 192.06 L950.8 192.37 L951.2 192.44 L951.6 192.26 L952 191.84 L952.4 191.26 L952.8 190.61 L953.2 189.97 L953.6 189.45 L954 189.13 L954.4 189.06 L954.8 189.23 L955.2 189.64 L955.6 190.22 L956 190.88 L956.4 191.51 L956.8 192.03 L957.2 192.36 L957.6 192.45 L958 192.27 L958.4 191.87 L958.8 191.3 L959.2 190.64 L959.6 190 L960 189.48 L960.4 189.14 L960.8 189.05 L961.2 189.22 L961.6 189.62 L962 190.19 L962.4 190.84 L962.8 191.48 L963.2 192.01 L963.6 192.35 L964 192.45 L964.4 192.29 L964.8 191.9 L965.2 191.33 L965.6 190.68 L966 190.03 L966.4 189.5 L966.8 189.16 L967.2 189.05 L967.6 189.2 L968 189.59 L968.4 190.15 L968.8 190.81 L969.2 191.45 L969.6 191.99 L970 192.34 L970.4 192.45 L970.8 192.3 L971.2 191.92 L971.6 191.36 L972 190.71 L972.4 190.07 L972.8 189.52 L973.2 189.17 L973.6 189.05 L974 189.19 L974.4 189.57 L974.8 190.12 L975.2 190.77 L975.6 191.42 L976 191.96 L976.4 192.33 L976.8 192.45 L977.2 192.32 L977.6 191.95 L978 191.4 L978.4 190.75 L978.8 190.1 L979.2 189.55 L979.6 189.18 L980 189.05 L980.4 189.18 L980.8 189.54 L981.2 190.09 L981.6 190.74 L982 191.39" fill="none" stroke="#000" stroke-width="2.5" stroke-linejoin="round" stroke-linecap="round"/>
<text transform="translate(734.4 240.1) scale(1.04 1.06)" font-family="'Liberation Serif', 'Times New Roman', serif" font-size="14" text-anchor="middle" >100</text>
<text transform="translate(785.35 240.1) scale(1.04 1.06)" font-family="'Liberation Serif', 'Times New Roman', serif" font-size="14" text-anchor="middle" >150</text>
<text transform="translate(836.3 240.1) scale(1.04 1.06)" font-family="'Liberation Serif', 'Times New Roman', serif" font-size="14" text-anchor="middle" >200</text>
<text transform="translate(887.25 240.1) scale(1.04 1.06)" font-family="'Liberation Serif', 'Times New Roman', serif" font-size="14" text-anchor="middle" >250</text>
<text transform="translate(938.2 240.1) scale(1.04 1.06)" font-family="'Liberation Serif', 'Times New Roman', serif" font-size="14" text-anchor="middle" >300</text>
<text transform="translate(989.15 240.1) scale(1.04 1.06)" font-family="'Liberation Serif', 'Times New Roman', serif" font-size="14" text-anchor="middle" >350</text>
<text transform="translate(724.1 229.78) scale(1.03 1.06)" font-family="'Liberation Serif', 'Times New Roman', serif" font-size="14" text-anchor="end" >-0.5</text>
<text transform="translate(724.1 197.5) scale(1.03 1.06)" font-family="'Liberation Serif', 'Times New Roman', serif" font-size="14" text-anchor="end" >0.0</text>
<text transform="translate(724.1 165.22) scale(1.03 1.06)" font-family="'Liberation Serif', 'Times New Roman', serif" font-size="14" text-anchor="end" >0.5</text>
<text transform="translate(724.1 132.95) scale(1.03 1.06)" font-family="'Liberation Serif', 'Times New Roman', serif" font-size="14" text-anchor="end" >1.0</text>
<text transform="translate(724.1 100.67) scale(1.03 1.06)" font-family="'Liberation Serif', 'Times New Roman', serif" font-size="14" text-anchor="end" >1.5</text>
<text transform="translate(724.1 68.4) scale(1.03 1.06)" font-family="'Liberation Serif', 'Times New Roman', serif" font-size="14" text-anchor="end" >2.0</text>
<text transform="translate(724.1 36.12) scale(1.03 1.06)" font-family="'Liberation Serif', 'Times New Roman', serif" font-size="14" text-anchor="end" >2.5</text>
<text x="858.9" y="255.6" font-family="'Liberation Serif', 'Times New Roman', serif" font-size="14" text-anchor="middle" >Flight time (s)</text>
<text transform="translate(693.6 241.4) rotate(-90)" font-family="'Liberation Serif', 'Times New Roman', serif" font-size="14.8">Offset angle of first sub-vehicle (°)</text>
<text transform="translate(671.2 18.8) scale(1.05 1)" font-family="'Liberation Sans', Arial, sans-serif" font-size="22">(c)</text>
<text font-family="'Liberation Serif', 'Times New Roman', serif" font-size="17.4"><tspan x="53.1" y="292.8" font-size="17.6">Relative distance </tspan><tspan x="179.6" y="292.8" font-style="italic" font-size="18.4">L</tspan><tspan x="189.5" y="298.2" font-size="15.2">0 </tspan><tspan x="201.3" y="292.8" font-size="17.75">with respect to</tspan></text>
<text font-family="'Liberation Serif', 'Times New Roman', serif" font-size="17.4"><tspan x="176.4" y="317.6">time</tspan></text>
<text font-family="'Liberation Serif', 'Times New Roman', serif" font-size="17.4"><tspan x="395.2" y="292.8">Baseline length </tspan><tspan x="514.8" y="292.8" font-style="italic" font-size="18.4">L</tspan><tspan x="525.2" y="297.2" font-size="12.6">23</tspan><tspan x="537" y="292.8">, </tspan><tspan x="543.9" y="292.8" font-style="italic" font-size="18.4">L</tspan><tspan x="554.1" y="297.2" font-size="12.6">24</tspan><tspan x="566" y="292.8">, </tspan><tspan x="573.6" y="292.8" font-style="italic" font-size="18.4">L</tspan><tspan x="583.8" y="297.2" font-size="12.6">34 </tspan><tspan x="601.6" y="292.8">with</tspan></text>
<text font-family="'Liberation Serif', 'Times New Roman', serif" font-size="17.4"><tspan x="474.1" y="317.6">respect to time</tspan></text>
<text font-family="'Liberation Serif', 'Times New Roman', serif" font-size="17.4"><tspan x="708.6" y="292.8">Off</tspan><tspan x="733.6" y="292.8">set </tspan><tspan x="757" y="292.8">angle </tspan><tspan x="799.9" y="292.8">Δ </tspan><tspan x="815" y="292.8" font-style="italic">center </tspan><tspan x="864.7" y="292.8">with </tspan><tspan x="899.5" y="292.8">re</tspan><tspan x="913" y="292.8">spect </tspan><tspan x="954.8" y="292.8">to</tspan></text>
<text font-family="'Liberation Serif', 'Times New Roman', serif" font-size="17.4"><tspan x="826.5" y="317.6">time</tspan></text>
</svg></body></html>
